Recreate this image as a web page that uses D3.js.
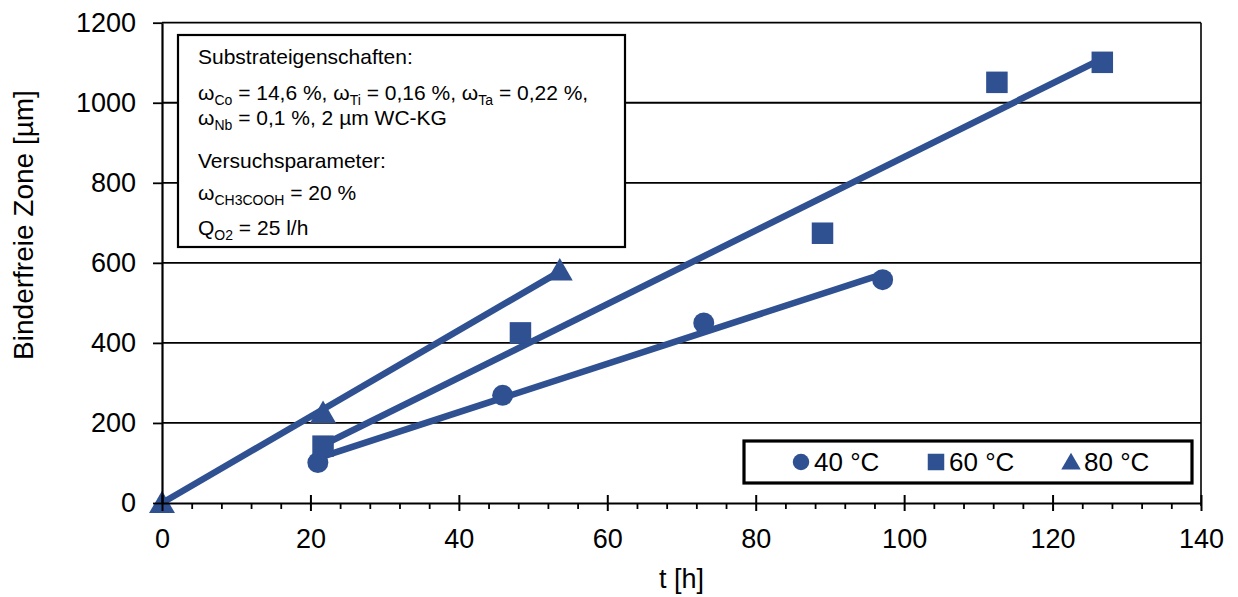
<!DOCTYPE html>
<html>
<head>
<meta charset="utf-8">
<script src="https://cdn.jsdelivr.net/npm/d3@7"></script>
<style>
  html, body { margin: 0; padding: 0; background: #fff; }
  svg { display: block; font-family: "Liberation Sans", Arial, sans-serif; }
</style>
</head>
<body>
<svg id="chart" width="1238" height="597"></svg>
<script>
// ---- Data ----
const xTicks = [0, 20, 40, 60, 80, 100, 120, 140];
const xMinorTicks = d3.range(0, 141, 4).filter(v => v % 20 !== 0);
const yTicks = [0, 200, 400, 600, 800, 1000, 1200];

const series40_t = [21.0, 45.9, 73.0, 97.1];
const series40_z = [101, 269, 450, 558];
const series60_t = [21.7, 48.3, 89.0, 112.5, 126.7];
const series60_z = [142, 425, 674, 1051, 1101];
const series80_t = [0, 21.7, 53.6];
const series80_z = [0, 225, 581];

// trend lines (endpoints)
const trend40_t = [21.0, 97.1];
const trend40_z = [112, 572];
const trend60_t = [21.7, 126.7];
const trend60_z = [145, 1110];
const trend80_t = [0, 53.6];
const trend80_z = [0, 578];

const legendLabels = ["40 °C", "60 °C", "80 °C"];
const xLabel = "t [h]";
const yLabel = "Binderfreie Zone [µm]";

// annotation box lines: arrays of [text, isSubscript]
const boxLines = [
  [["Substrateigenschaften:", false]],
  [["ω", false], ["Co", true], [" = 14,6 %, ω", false], ["Ti", true], [" = 0,16 %, ω", false], ["Ta", true], [" = 0,22 %,", false]],
  [["ω", false], ["Nb", true], [" = 0,1 %, 2 µm WC-KG", false]],
  [["Versuchsparameter:", false]],
  [["ω", false], ["CH3COOH", true], [" = 20 %", false]],
  [["Q", false], ["O2", true], [" = 25 l/h", false]]
];

// ---- Layout ----
const color = "#2F5191";
const svg = d3.select("#chart");
const L = 162, R = 1201, T = 22.7, B = 503;
const x = d3.scaleLinear().domain([0, 140]).range([L, R]);
const y = d3.scaleLinear().domain([0, 1200]).range([B, T]);

// gridlines
svg.append("g").selectAll("line").data(yTicks.filter(v => v > 0)).join("line")
  .attr("x1", L).attr("x2", R)
  .attr("y1", d => y(d)).attr("y2", d => y(d))
  .attr("stroke", "#000").attr("stroke-width", 1.8);

// right border
svg.append("line").attr("x1", R).attr("x2", R).attr("y1", T).attr("y2", B + 3)
  .attr("stroke", "#000").attr("stroke-width", 1.6);

// trend lines
const lineGen = d3.line().x(d => x(d[0])).y(d => y(d[1]));
[[trend40_t, trend40_z], [trend60_t, trend60_z], [trend80_t, trend80_z]].forEach(([t, z]) => {
  svg.append("path").datum(d3.zip(t, z)).attr("d", lineGen)
    .attr("fill", "none").attr("stroke", color).attr("stroke-width", 6.5);
});

// markers
function marker(g, type, cx, cy, s) {
  if (type === 0) {
    g.append("circle").attr("cx", cx).attr("cy", cy).attr("r", s / 2).attr("fill", color);
  } else if (type === 1) {
    g.append("rect").attr("x", cx - s / 2).attr("y", cy - s / 2).attr("width", s).attr("height", s).attr("fill", color);
  } else {
    const w = s * 1.18, h = s * 1.02;
    g.append("path").attr("d", `M${cx},${cy - h * 0.55} L${cx + w / 2},${cy + h * 0.45} L${cx - w / 2},${cy + h * 0.45} Z`).attr("fill", color);
  }
}
const mg = svg.append("g");
d3.zip(series40_t, series40_z).forEach(d => marker(mg, 0, x(d[0]), y(d[1]), 21));
d3.zip(series60_t, series60_z).forEach(d => marker(mg, 1, x(d[0]), y(d[1]), 21.5));
d3.zip(series80_t, series80_z).forEach(d => marker(mg, 2, x(d[0]), y(d[1]), 22));

// x axis
const xAxis = svg.append("g").attr("transform", `translate(0,${B})`)
  .call(d3.axisBottom(x).tickValues(xTicks).tickSize(8).tickPadding(18).tickSizeOuter(0).tickFormat(d3.format("d")));
xAxis.select(".domain").attr("stroke", "#000").attr("stroke-width", 2.2);
xAxis.selectAll(".tick line").attr("y1", -8).attr("y2", 8).attr("stroke-width", 2);
xAxis.selectAll("text").attr("font-size", 27).attr("fill", "#000").attr("font-family", "Liberation Sans, Arial, sans-serif");
const xMinor = svg.append("g").attr("transform", `translate(0,${B})`)
  .call(d3.axisBottom(x).tickValues(xMinorTicks).tickSize(6).tickFormat(""));
xMinor.select(".domain").remove();
xMinor.selectAll(".tick line").attr("stroke-width", 1.8);

// y axis
const yAxis = svg.append("g").attr("transform", `translate(${L},0)`)
  .call(d3.axisLeft(y).tickValues(yTicks).tickSize(9).tickPadding(17).tickSizeOuter(0).tickFormat(d3.format("d")));
yAxis.select(".domain").attr("stroke", "#000").attr("stroke-width", 2.2);
yAxis.selectAll(".tick line").attr("stroke-width", 1.8);
yAxis.selectAll("text").attr("font-size", 27).attr("fill", "#000").attr("font-family", "Liberation Sans, Arial, sans-serif");

// axis labels
svg.append("text").attr("x", (L + R) / 2).attr("y", 588).attr("text-anchor", "middle")
  .attr("font-size", 27).text(xLabel);
svg.append("text").attr("transform", "translate(33,225) rotate(-90)").attr("text-anchor", "middle")
  .attr("font-size", 28).text(yLabel);

// annotation box
svg.append("rect").attr("x", 178).attr("y", 35).attr("width", 447).attr("height", 212)
  .attr("fill", "#fff").attr("stroke", "#000").attr("stroke-width", 2.2);
const baselines = [64, 100, 125, 168, 200, 235];
const mainSize = 21, subSize = 14, subShift = 5;
boxLines.forEach((parts, i) => {
  const t = svg.append("text").attr("x", 198).attr("y", baselines[i]).attr("font-size", mainSize);
  let prevSub = false;
  parts.forEach(([s, sub]) => {
    t.append("tspan").attr("font-size", sub ? subSize : mainSize)
      .attr("dy", sub ? subShift : (prevSub ? -subShift : 0)).text(s);
    prevSub = sub;
  });
});

// legend
svg.append("rect").attr("x", 744).attr("y", 441).attr("width", 448).attr("height", 42)
  .attr("fill", "#fff").attr("stroke", "#000").attr("stroke-width", 3.2);
const legX = [801, 936, 1071];
legendLabels.forEach((lab, i) => {
  marker(svg, i, legX[i], 462, 16.5);
  svg.append("text").attr("x", legX[i] + 13).attr("y", 471).attr("font-size", 26).text(lab);
});
</script>
</body>
</html>
